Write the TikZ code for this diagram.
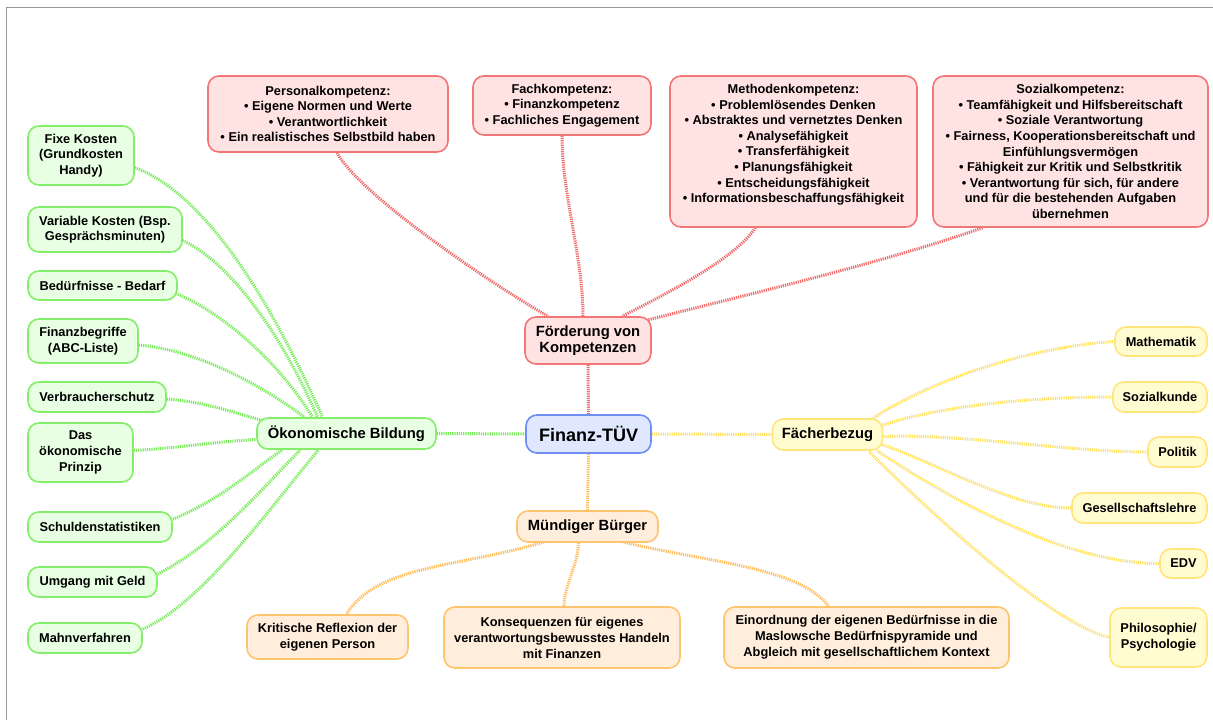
\documentclass[tikz,border=0pt]{standalone}
\usepackage{fontspec}
\setmainfont{Liberation Sans}
\usetikzlibrary{calc,backgrounds}
\definecolor{redfill}{HTML}{FFE3E3}\definecolor{redline}{HTML}{F27676}
\definecolor{greenfill}{HTML}{E9FFE4}\definecolor{greenline}{HTML}{84EE6A}
\definecolor{yelfill}{HTML}{FFFCD2}\definecolor{yelline}{HTML}{FFE57A}
\definecolor{orafill}{HTML}{FFEEDC}\definecolor{oraline}{HTML}{FFC46E}
\definecolor{bluefill}{HTML}{E0E8FF}\definecolor{blueline}{HTML}{6E8EF2}
\definecolor{framegray}{HTML}{999999}
\definecolor{redlink}{HTML}{F06A6A}
\definecolor{greenlink}{HTML}{78EC5A}
\definecolor{yellink}{HTML}{FFE060}
\definecolor{oralink}{HTML}{FFBC5C}
\newcommand\fsz[2]{\fontsize{#1}{#2}\selectfont}
\tikzset{
  box/.style={draw, rounded corners=11pt, line width=1.6pt, align=center, inner sep=2pt,
    font=\bfseries\fsz{12.8}{15.6}},
  rbox/.style={box, fill=redfill, draw=redline},
  gbox/.style={box, fill=greenfill, draw=greenline},
  ybox/.style={box, fill=yelfill, draw=yelline},
  obox/.style={box, fill=orafill, draw=oraline, font=\bfseries\fsz{12.8}{16}},
  hub/.style={font=\bfseries\fsz{14.8}{16.5}},
  wh/.style 2 args={minimum width=#1pt, minimum height=#2pt},
  link/.style={line width=3pt, dash pattern=on 1.2pt off 1pt},
  gl/.style={link, draw=greenlink},
  rl/.style={link, draw=redlink},
  yl/.style={link, draw=yellink},
  ol/.style={link, draw=oralink},
}
\begin{document}
\begin{tikzpicture}[x=1pt,y=-1pt]
\useasboundingbox (0,0) rectangle (1213,720);
\draw[framegray, line width=1.5pt] (6.5,720) -- (6.5,7.5) -- (1213,7.5);

% ---- nodes ----
\node[box, fill=bluefill, draw=blueline, font=\bfseries\fsz{18}{20}, wh={125}{38}] (tuev) at (588.5,434) {Finanz-TÜV};
\node[rbox, hub, wh={126}{47}] (foerd) at (588,340.5) {Förderung von\\Kompetenzen};
\node[gbox, hub, wh={179}{31}] (oek) at (346.5,433.5) {Ökonomische Bildung};
\node[ybox, hub, wh={110}{31}] (faech) at (827.5,434.5) {Fächerbezug};
\node[box, fill=orafill, draw=oraline, hub, wh={141}{31}] (muend) at (587.5,526.5) {Mündiger Bürger};

\node[rbox, wh={240}{76}] (pers) at (328,114) {Personalkompetenz:\\• Eigene Normen und Werte\\• Verantwortlichkeit\\• Ein realistisches Selbstbild haben};
\node[rbox, wh={178}{59}] (fach) at (562,105.5) {Fachkompetenz:\\• Finanzkompetenz\\• Fachliches Engagement};
\node[rbox, wh={247}{151}] (meth) at (793.5,151.5) {Methodenkompetenz:\\• Problemlösendes Denken\\• Abstraktes und vernetztes Denken\\• Analysefähigkeit\\• Transferfähigkeit\\• Planungsfähigkeit\\• Entscheidungsfähigkeit\\• Informationsbeschaffungsfähigkeit\\[-4pt]\strut};
\node[rbox, wh={275}{151}] (soz) at (1070.5,151.5) {Sozialkompetenz:\\• Teamfähigkeit und Hilfsbereitschaft\\• Soziale Verantwortung\\• Fairness, Kooperationsbereitschaft und\\Einfühlungsvermögen\\• Fähigkeit zur Kritik und Selbstkritik\\• Verantwortung für sich, für andere\\und für die bestehenden Aufgaben\\übernehmen};

\node[gbox, wh={106}{59}] (fixe) at (81,155.5) {Fixe Kosten\\(Grundkosten\\Handy)};
\node[gbox, wh={154}{45}] (var) at (105,229.5) {Variable Kosten (Bsp.\\Gesprächsminuten)};
\node[gbox, wh={149}{29}] (bed) at (102.5,285.5) {Bedürfnisse - Bedarf};
\node[gbox, wh={110}{44}] (finb) at (83,341) {Finanzbegriffe\\(ABC-Liste)};
\node[gbox, wh={138}{30}] (verb) at (97,397) {Verbraucherschutz};
\node[gbox, wh={105}{59}] (prinz) at (80.5,452.5) {Das\\ökonomische\\Prinzip};
\node[gbox, wh={144}{30}] (schuld) at (100,527) {Schuldenstatistiken};
\node[gbox, wh={129}{30}] (umg) at (92.5,582) {Umgang mit Geld};
\node[gbox, wh={114}{30}] (mahn) at (85,638) {Mahnverfahren};

\node[ybox, wh={92}{29}] (math) at (1161,341.5) {Mathematik};
\node[ybox, wh={94}{30}] (sozk) at (1160,397) {Sozialkunde};
\node[ybox, wh={59}{30}] (pol) at (1177.5,452) {Politik};
\node[ybox, wh={135}{30}] (ges) at (1139.5,508) {Gesellschaftslehre};
\node[ybox, wh={47}{29}] (edv) at (1183.5,563.5) {EDV};
\node[ybox, wh={97}{59}] (phil) at (1158.5,637.5) {Philosophie/\\Psychologie};

\node[obox, wh={161}{44}] (krit) at (327.5,637) {Kritische Reflexion der\\eigenen Person};
\node[obox, wh={236}{61}] (kons) at (562,637.5) {Konsequenzen für eigenes\\verantwortungsbewusstes Handeln\\mit Finanzen};
\node[obox, wh={285}{61}] (einord) at (866.5,637.5) {Einordnung der eigenen Bedürfnisse in die\\Maslowsche Bedürfnispyramide und\\Abgleich mit gesellschaftlichem Kontext};

% ---- connectors ----
\begin{scope}[on background layer]
\draw[rl] (foerd.south) -- (tuev.north);
\draw[gl] (oek.east) -- (tuev.west);
\draw[yl] (tuev.east) -- (faech.west);
\draw[ol] (tuev.south) -- (muend.north);

\draw[rl] ($(pers.south)+(9,0)$) .. controls +(25,45) and +(-45,-25) .. ($(foerd.north)+(-40,0)$);
\draw[rl] (fach.south) .. controls +(0,60) and +(0,-60) .. ($(foerd.north)+(-5,0)$);
\draw[rl] ($(meth.south)+(-38,0)$) .. controls +(-20,30) and +(50,-25) .. ($(foerd.north)+(34,0)$);
\draw[rl] ($(soz.south)+(-88,0)$) .. controls +(-100,35) and +(110,-28) .. ($(foerd.north east)+(-5,4)$);

\draw[gl] ($(fixe.east)+(0,12)$) .. controls +(80,30) and +(-40,-90) .. ($(oek.north)+(-24,0)$);
\draw[gl] ($(var.east)+(-2,10)$) .. controls +(55,25) and +(-30,-70) .. ($(oek.north)+(-29,0)$);
\draw[gl] ($(bed.east)+(-2,8)$) .. controls +(50,20) and +(-30,-50) .. ($(oek.north)+(-34,0)$);
\draw[gl] ($(finb.east)+(0,4)$) .. controls +(60,5) and +(-40,-30) .. ($(oek.north)+(-42,0)$);
\draw[gl] ($(verb.east)+(0,2)$) .. controls +(40,3) and +(-30,-8) .. ($(oek.north west)+(9,4)$);
\draw[gl] ($(prinz.east)+(0,-2)$) .. controls +(40,-2) and +(-40,2) .. ($(oek.west)+(0,6)$);
\draw[gl] ($(schuld.east)+(-2,-7)$) .. controls +(50,-20) and +(-30,20) .. ($(oek.south)+(-64,0)$);
\draw[gl] ($(umg.east)+(-2,-7)$) .. controls +(60,-30) and +(-40,40) .. ($(oek.south)+(-46,0)$);
\draw[gl] ($(mahn.east)+(-2,-8)$) .. controls +(60,-25) and +(-50,60) .. ($(oek.south)+(-28,0)$);

\draw[yl] ($(faech.north east)+(-10,0)$) .. controls +(60,-40) and +(-80,5) .. (math.west);
\draw[yl] ($(faech.east)+(-2,-9)$) .. controls +(60,-20) and +(-80,0) .. (sozk.west);
\draw[yl] ($(faech.east)+(0,2)$) .. controls +(80,-3) and +(-80,0) .. (pol.west);
\draw[yl] ($(faech.east)+(-2,10)$) .. controls +(60,20) and +(-60,0) .. (ges.west);
\draw[yl] ($(faech.south east)+(-6,0)$) .. controls +(60,40) and +(-100,0) .. (edv.west);
\draw[yl] ($(faech.south east)+(-14,1)$) .. controls +(60,60) and +(-60,-15) .. (phil.west);

\draw[ol] ($(muend.south west)+(28,-1)$) .. controls +(-80,25) and +(30,-50) .. ($(krit.north)+(19,0)$);
\draw[ol] ($(muend.south)+(-9,0)$) .. controls +(0,20) and +(0,-20) .. ($(kons.north)+(2,0)$);
\draw[ol] ($(muend.south)+(35,-1)$) .. controls +(80,20) and +(-30,-40) .. ($(einord.north)+(-38,0)$);
\end{scope}
\end{tikzpicture}
\end{document}
